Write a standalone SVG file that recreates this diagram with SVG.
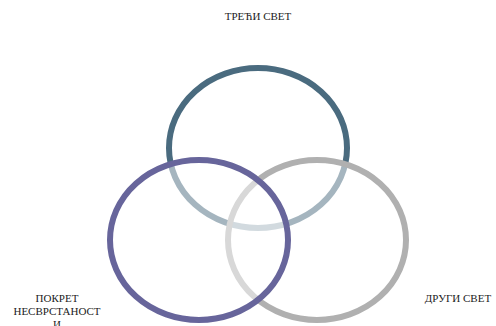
<svg xmlns="http://www.w3.org/2000/svg" width="496" height="326" viewBox="0 0 496 326">
<style>
.ring{fill:#ffffff;fill-opacity:0.5;stroke-width:6}
.lbl{font-family:"Liberation Serif","Times New Roman",serif;font-size:11px;fill:#222;text-anchor:middle}
</style>
<rect width="496" height="326" fill="#ffffff"/>
<g id="treci-svet">
<ellipse class="ring" cx="258" cy="148" rx="89" ry="80" stroke="#4a6b7f"/>
<text class="lbl" x="258" y="20">ТРЕЋИ СВЕТ</text>
</g>
<g id="drugi-svet">
<ellipse class="ring" cx="317" cy="240" rx="89" ry="80" stroke="#b0b0b0"/>
<text class="lbl" x="458" y="302">ДРУГИ СВЕТ</text>
</g>
<g id="pokret">
<ellipse class="ring" cx="199" cy="240" rx="89" ry="80" stroke="#67659b"/>
<text class="lbl" x="57" y="302">ПОКРЕТ</text>
<text class="lbl" x="57" y="315">НЕСВРСТАНОСТ</text>
<text class="lbl" x="57" y="328">И</text>
</g>
<g id="connectors"/>
</svg>
